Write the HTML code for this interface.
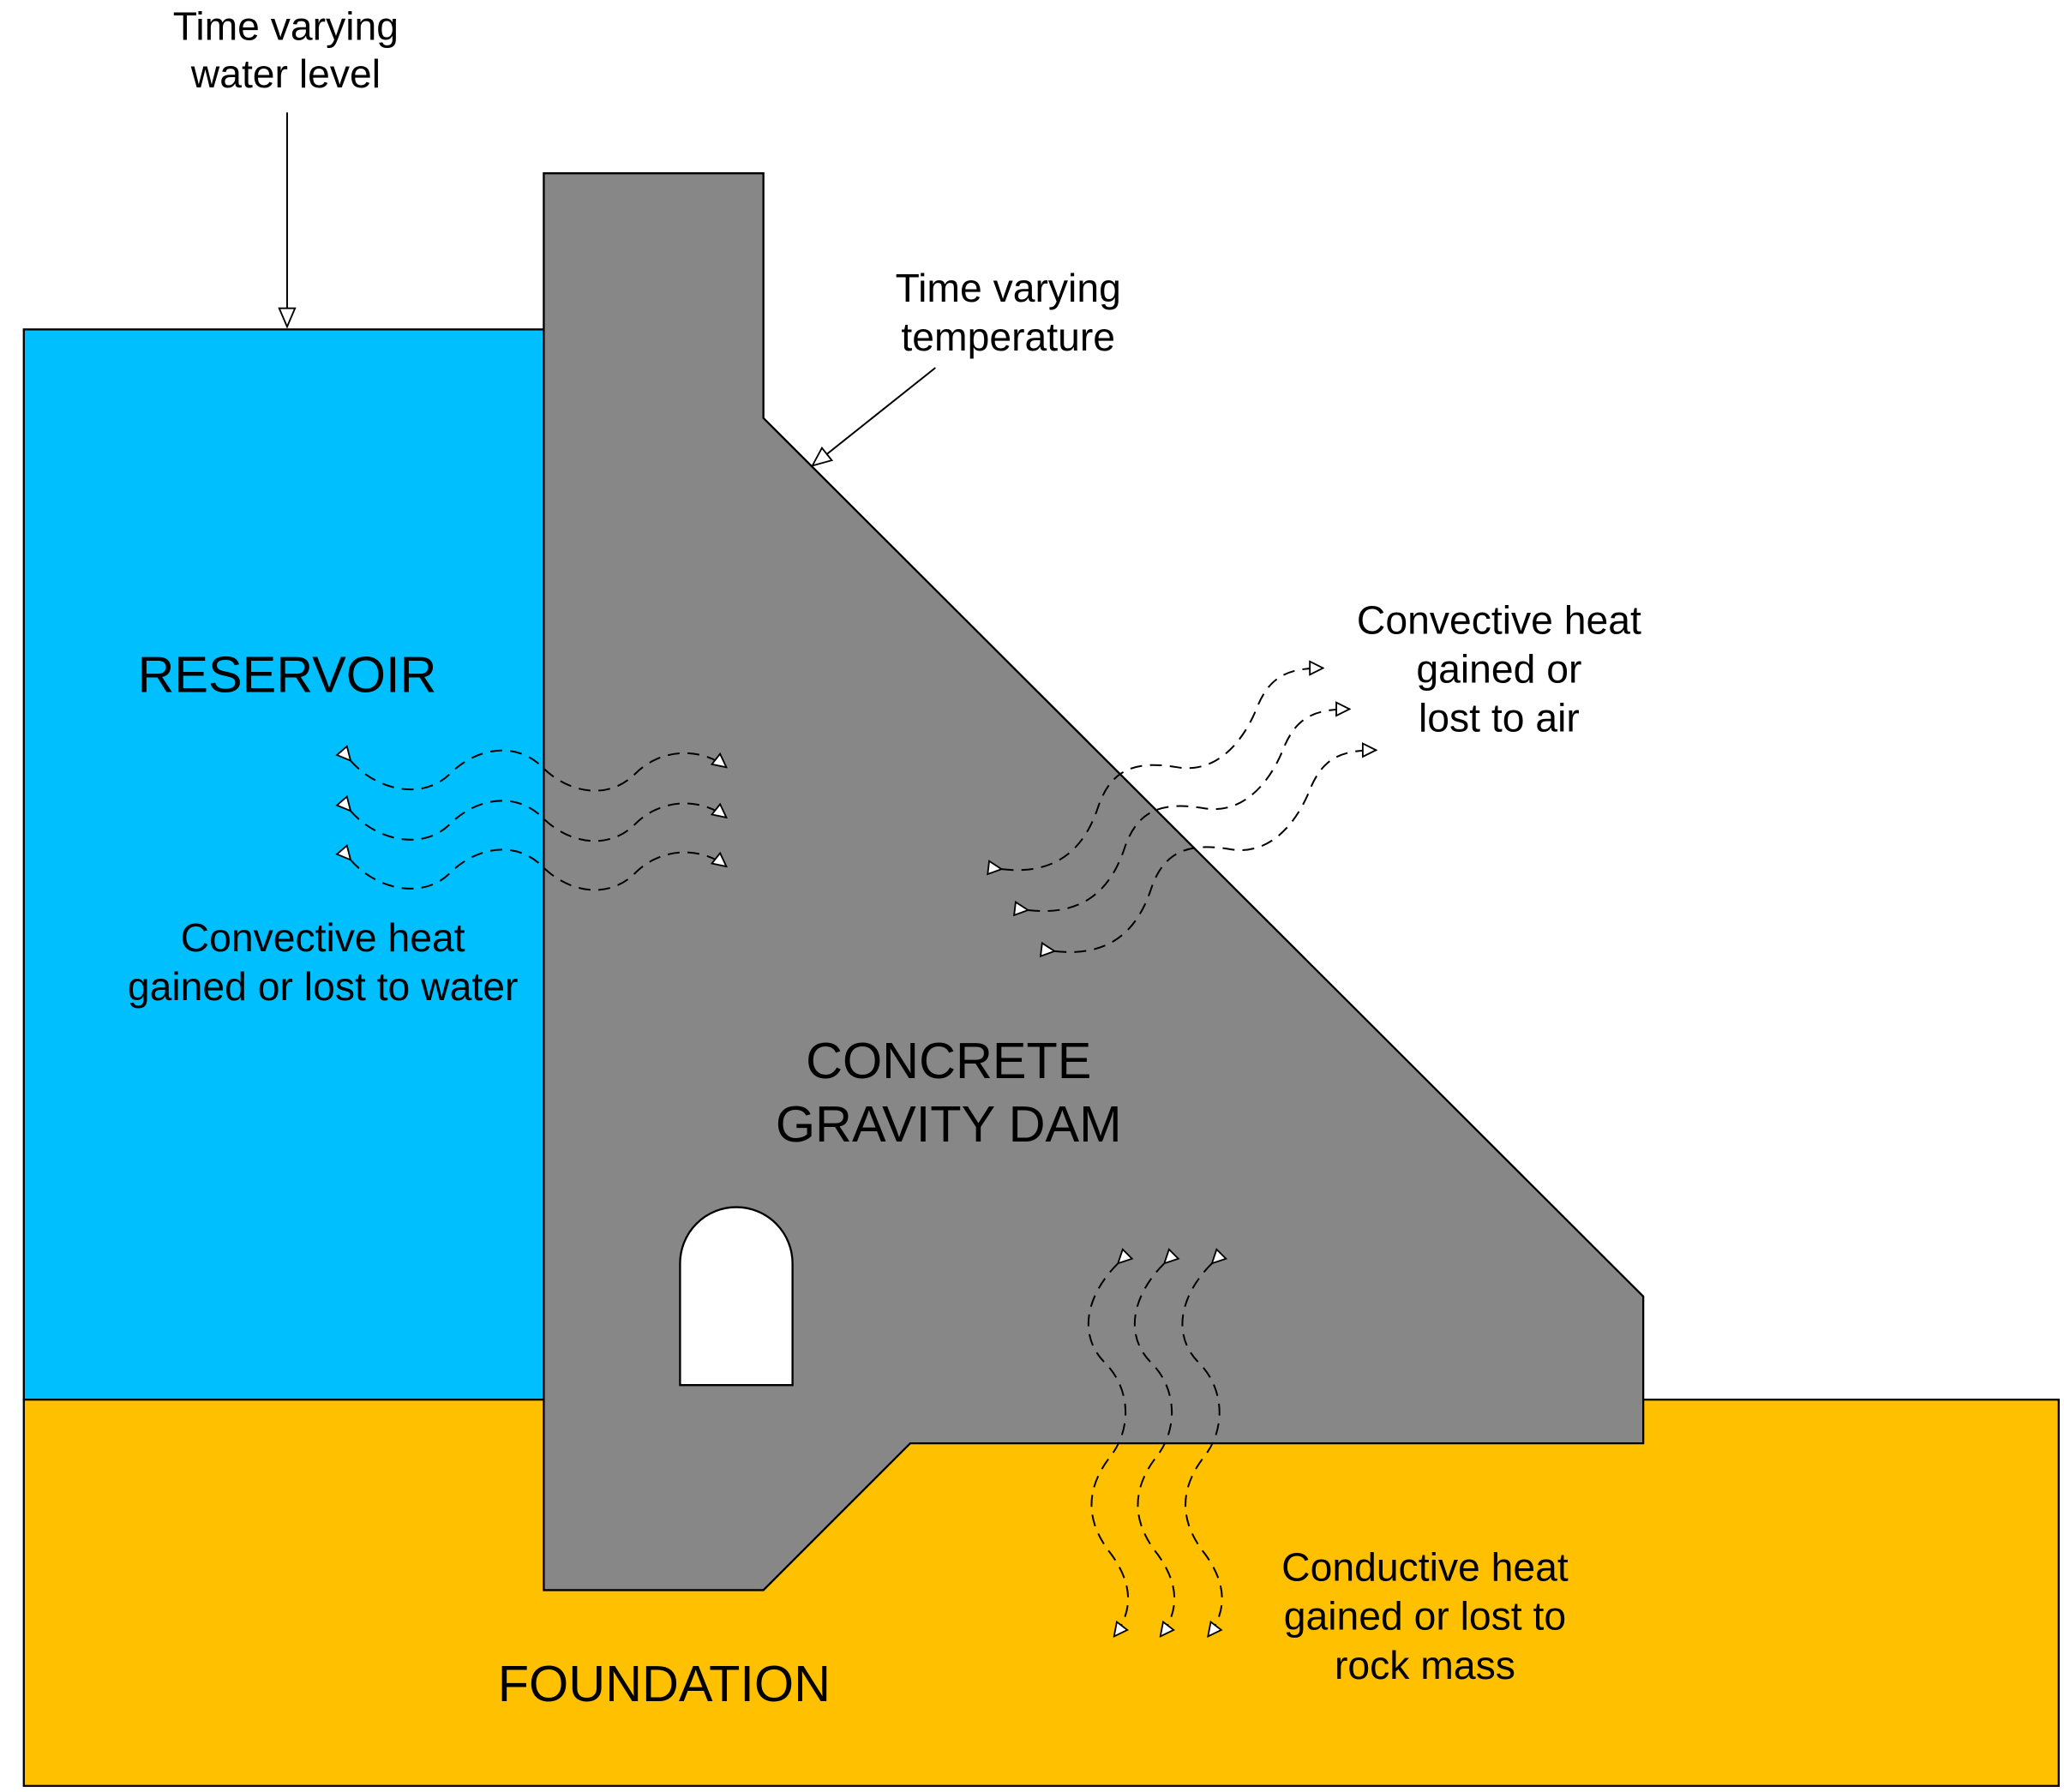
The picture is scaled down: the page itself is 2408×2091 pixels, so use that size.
<!DOCTYPE html>
<html><head><meta charset="utf-8"><style>
html,body{margin:0;padding:0;background:#fff;}
svg{display:block;}
text{font-family:"Liberation Sans",Arial,sans-serif;fill:#000;}
</style></head><body>
<svg width="2408" height="2091" viewBox="0 0 1560 1354.6" preserveAspectRatio="none" xmlns="http://www.w3.org/2000/svg">
<defs>
<marker id="a" viewBox="0 0 12 12" refX="11" refY="6" markerWidth="12" markerHeight="12" markerUnits="userSpaceOnUse" orient="auto">
<path d="M1,1 L11,6 L1,11 Z" fill="#fff" stroke="#000" stroke-width="1.2"/></marker>
<marker id="b" viewBox="0 0 16 16" refX="15" refY="8" markerWidth="16" markerHeight="16" markerUnits="userSpaceOnUse" orient="auto">
<path d="M1,2 L15,8 L1,14 Z" fill="#fff" stroke="#000" stroke-width="1.2"/></marker>
</defs>
<rect x="18" y="249" width="393" height="809" fill="#00BFFF" stroke="#000" stroke-width="1.5"/>
<rect x="18" y="1058" width="1538" height="292" fill="#FFC000" stroke="#000" stroke-width="1.5"/>
<polygon points="411,131 577,131 577,316 1242,980 1242,1091 688,1091 577,1202 411,1202" fill="#878787" stroke="#000" stroke-width="1.5"/>
<path d="M514,1047 L514,955 A42.5,42.5 0 0 1 599,955 L599,1047 Z" fill="#fff" stroke="#000" stroke-width="1.5"/>

<line x1="217" y1="85" x2="217" y2="247" stroke="#000" stroke-width="1.3" marker-end="url(#b)"/>
<line x1="707" y1="278" x2="614" y2="352" stroke="#000" stroke-width="1.3" marker-end="url(#b)"/>

<g fill="none" stroke="#000" stroke-width="1.3" stroke-dasharray="9,6">
<g marker-start="url(#a)" marker-end="url(#a)">
<path d="M265,575 C285,598 320,605 340,585 C360,565 390,560 410,580 C430,600 460,605 480,585 C500,565 530,565 549,580"/>
<path d="M265,613 C285,636 320,643 340,623 C360,603 390,598 410,618 C430,638 460,643 480,623 C500,603 530,603 549,618"/>
<path d="M265,650 C285,673 320,680 340,660 C360,640 390,635 410,655 C430,675 460,680 480,660 C500,640 530,640 549,655"/>
<path d="M757,657 C800,662 820,640 830,610 C840,580 860,575 890,580 C920,585 940,560 950,535 C960,510 975,505 1000,505"/>
<path d="M777,688 C820,693 840,671 850,641 C860,611 880,606 910,611 C940,616 960,591 970,566 C980,541 995,536 1020,536"/>
<path d="M797,719 C840,724 860,702 870,672 C880,642 900,637 930,642 C960,647 980,622 990,597 C1000,572 1015,567 1040,567"/>
<path d="M845,955 C820,980 815,1010 835,1030 C855,1050 855,1080 840,1100 C820,1125 820,1150 840,1175 C858,1200 855,1220 842,1237"/>
<path d="M880,955 C855,980 850,1010 870,1030 C890,1050 890,1080 875,1100 C855,1125 855,1150 875,1175 C893,1200 890,1220 877,1237"/>
<path d="M916,955 C891,980 886,1010 906,1030 C926,1050 926,1080 911,1100 C891,1125 891,1150 911,1175 C929,1200 926,1220 913,1237"/>
</g></g>

<g font-size="30" text-anchor="middle">
<text x="216" y="30">Time varying</text>
<text x="216" y="66">water level</text>
<text x="762" y="228">Time varying</text>
<text x="762" y="265">temperature</text>
<text x="1133" y="479">Convective heat</text>
<text x="1133" y="516">gained or</text>
<text x="1133" y="553">lost to air</text>
<text x="244" y="719">Convective heat</text>
<text x="244" y="756">gained or lost to water</text>
<text x="1077" y="1195">Conductive heat</text>
<text x="1077" y="1232">gained or lost to</text>
<text x="1077" y="1269">rock mass</text>
</g>
<g font-size="38.5" text-anchor="middle">
<text x="217" y="523">RESERVOIR</text>
<text x="717" y="815">CONCRETE</text>
<text x="717" y="863">GRAVITY DAM</text>
<text x="502" y="1286">FOUNDATION</text>
</g>
</svg>
</body></html>
